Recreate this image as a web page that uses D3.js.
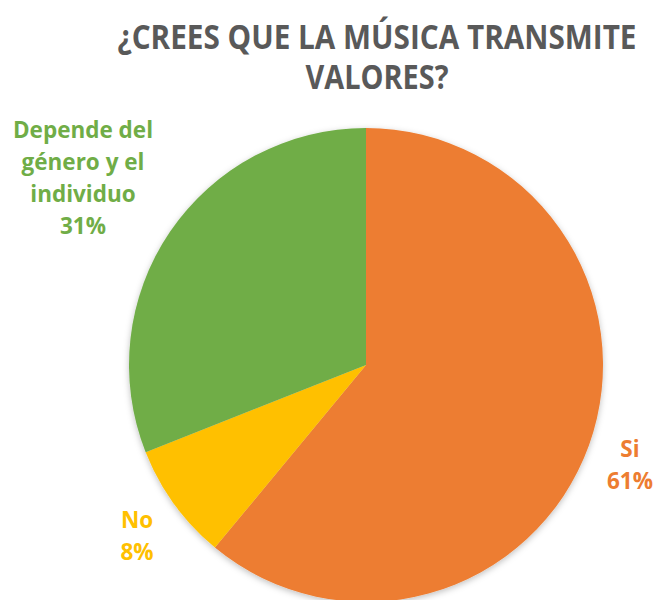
<!DOCTYPE html>
<html>
<head>
<meta charset="utf-8">
<script src="https://cdn.jsdelivr.net/npm/d3@7"></script>
<style>
  body { margin: 0; background: #fff; }
  svg { font-family: "Open Sans", "Liberation Sans", sans-serif; font-weight: bold; }
</style>
</head>
<body>
<div id="chart"></div>
<script>
// slice data
var categories = ["Si", "No", "Depende del género y el individuo"];
var values = [61, 8, 31];
var colors = ["#ED7D31", "#FFC000", "#70AD47"];
var titleLines = ["¿CREES QUE LA MÚSICA TRANSMITE", "VALORES?"];

var width = 657, height = 600;
var cx = 366, cy = 365, radius = 237;

var svg = d3.select("#chart").append("svg")
    .attr("width", width)
    .attr("height", height);

// soft shadow like the office chart
var defs = svg.append("defs");
var filter = defs.append("filter").attr("id", "shadow")
    .attr("x", "-10%").attr("y", "-10%").attr("width", "120%").attr("height", "120%");
filter.append("feDropShadow")
    .attr("dx", 0).attr("dy", 2).attr("stdDeviation", 3)
    .attr("flood-color", "#000").attr("flood-opacity", 0.25);

var pie = d3.pie().sort(null).value(function(d) { return d; });
var arc = d3.arc().innerRadius(0).outerRadius(radius);

var g = svg.append("g")
    .attr("transform", "translate(" + cx + "," + cy + ")")
    .attr("filter", "url(#shadow)");

g.selectAll("path")
    .data(pie(values))
    .enter().append("path")
    .attr("d", arc)
    .attr("fill", function(d, i) { return colors[i]; });

// title - squeeze to the narrower office font width
var titleWidths = [519, 143];
svg.append("g").selectAll("text")
    .data(titleLines)
    .enter().append("text")
    .attr("x", 377)
    .attr("y", function(d, i) { return 49 + i * 40; })
    .attr("text-anchor", "middle")
    .attr("fill", "#595959")
    .attr("textLength", function(d, i) { return titleWidths[i]; })
    .attr("lengthAdjust", "spacingAndGlyphs")
    .style("font-size", "34px")
    .text(function(d) { return d; });

// data labels (positions picked to match the original)
var labelPos = [
    { x: 630, y: 457, lines: ["Si"] },
    { x: 137, y: 528, lines: ["No"] },
    { x: 83, y: 138, lines: ["Depende del", "género y el", "individuo"] }
];

labelPos.forEach(function(p, i) {
    var lines = p.lines.concat([values[i] + "%"]);
    var t = svg.append("text")
        .attr("text-anchor", "middle")
        .attr("fill", colors[i])
        .style("font-size", "22.5px");
    lines.forEach(function(l, j) {
        t.append("tspan")
            .attr("x", p.x)
            .attr("y", p.y + j * 32)
            .text(l);
    });
});
</script>
</body>
</html>
